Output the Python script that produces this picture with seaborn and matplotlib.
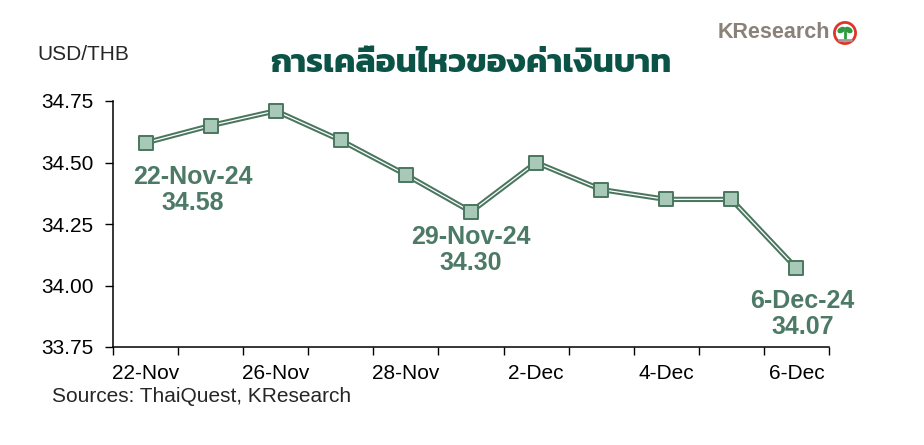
import matplotlib
matplotlib.use("Agg")
import matplotlib.pyplot as plt
import seaborn as sns
import pandas as pd
from matplotlib.patches import Circle, Ellipse
from matplotlib.ticker import FixedLocator

dates = ["22-Nov", "25-Nov", "26-Nov", "27-Nov", "28-Nov", "29-Nov",
         "2-Dec", "3-Dec", "4-Dec", "5-Dec", "6-Dec"]
rates = [34.58, 34.65, 34.71, 34.59, 34.45, 34.30, 34.50, 34.39, 34.35, 34.35, 34.07]
tick_labels = ["22-Nov", "26-Nov", "28-Nov", "2-Dec", "4-Dec", "6-Dec"]
yticks = [33.75, 34.00, 34.25, 34.50, 34.75]
annot_idx = [0, 5, 10]
annot_text = ["22-Nov-24\n34.58", "29-Nov-24\n34.30", "6-Dec-24\n34.07"]
annot_off = [(47, -47), (0, -38), (6, -46)]

sns.set_theme(style="white")
plt.rcParams['font.family'] = ['Liberation Sans', 'DejaVu Sans']

df = pd.DataFrame({"pos": list(range(len(dates))), "rate": rates})

fig = plt.figure(figsize=(9.24, 4.45), dpi=100)
ax = fig.add_axes([113/924, 1-347/445, (829-113)/924, (347-101)/445])

dark = "#4a765f"
sns.lineplot(data=df, x="pos", y="rate", ax=ax, color=dark, linewidth=3.8, sort=False)
sns.lineplot(data=df, x="pos", y="rate", ax=ax, color="white", linewidth=0.9, sort=False)
sns.scatterplot(data=df, x="pos", y="rate", ax=ax, marker="s", s=100,
                color="#a9c9b8", edgecolor=dark, linewidth=1.4, zorder=5)

ax.set_xlim(-0.5, len(dates) - 0.5)
ax.set_ylim(33.75, 34.75)
ax.set_yticks(yticks)
ax.set_yticklabels([f"{v:.2f}" for v in yticks])
ax.set_xticks(range(0, len(dates), 2))
ax.set_xticklabels(tick_labels)
ax.xaxis.set_minor_locator(FixedLocator([i - 0.5 for i in range(len(dates) + 1)]))
ax.tick_params(axis="x", which="major", length=0, pad=12, labelsize=15, colors="black")
ax.tick_params(axis="x", which="minor", length=6, width=1, direction="out", color="black", bottom=True)
ax.tick_params(axis="y", length=6, width=1, direction="out", left=True, labelsize=15, pad=8, colors="black")
ax.set_xlabel("")
ax.set_ylabel("")
for s in ["top", "right"]:
    ax.spines[s].set_visible(False)
for s in ["left", "bottom"]:
    ax.spines[s].set_color("black")
    ax.spines[s].set_linewidth(1.1)

for i, txt, off in zip(annot_idx, annot_text, annot_off):
    ax.annotate(txt, xy=(i, rates[i]), xytext=off, textcoords="offset pixels",
                ha="center", va="center", fontsize=18, fontweight="bold",
                color="#4c7a66", linespacing=1.1)

fig.text(37/924, 1-55/445, "USD/THB", fontsize=15, va="center", ha="left")
fig.text(471/924, 1-64/445, "การเคลื่อนไหวของค่าเงินบาท", family=["Kanit", "DejaVu Sans"],
         fontsize=24, fontweight="bold", color="#0b5347", ha="center", va="center")
fig.text(52/924, 1-397/445, "Sources: ThaiQuest, KResearch", fontsize=15, va="center", ha="left")

fig.text(718/924, 1-33/445, "KResearch", family=["Liberation Sans Narrow", "Liberation Sans"],
         fontsize=15.5, fontweight="bold", color="#8a8178", va="center", ha="left")
lax = fig.add_axes([833/924, 1-45/445, 24/924, 24/445])
lax.set_xlim(-1, 1); lax.set_ylim(-1, 1); lax.set_aspect("equal"); lax.axis("off")
lax.add_patch(Circle((0, 0), 0.88, facecolor="white", edgecolor="#e0342a", linewidth=2))
lax.add_patch(Ellipse((-0.3, 0.25), 0.6, 0.35, angle=30, color="#2e9a3e"))
lax.add_patch(Ellipse((0.3, 0.25), 0.6, 0.35, angle=-30, color="#2e9a3e"))
lax.plot([0, 0], [-0.5, 0.2], color="#2e9a3e", lw=2)
lax.plot([-0.5, 0.5], [-0.55, -0.55], color="#9a9a9a", lw=2)

fig.savefig("out.png", dpi=100)
